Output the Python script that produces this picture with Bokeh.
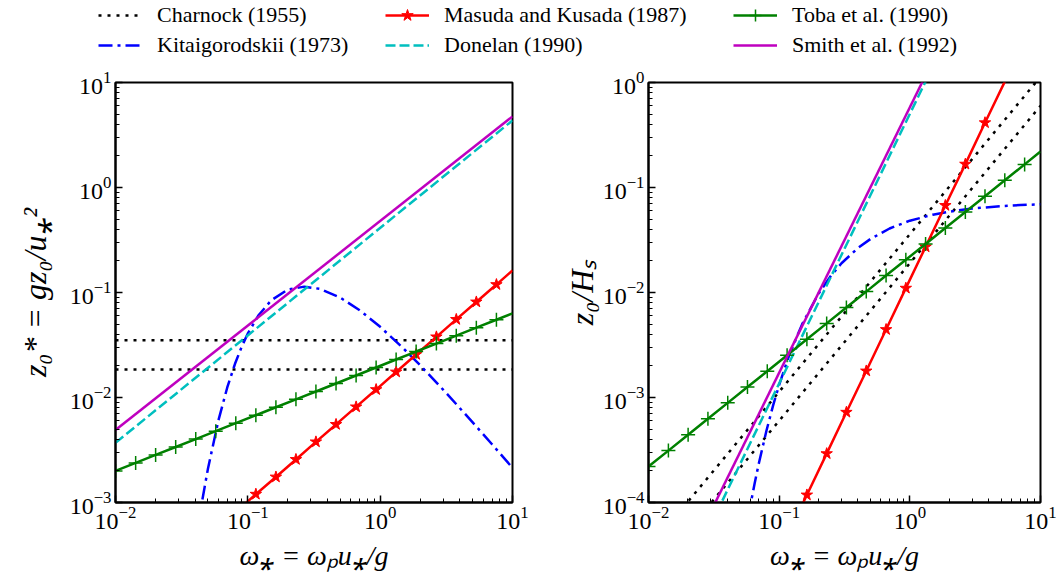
from bokeh.plotting import figure
from bokeh.layouts import column, row
from bokeh.models import Range1d, Legend, LegendItem
from bokeh.embed import file_html
from bokeh.resources import INLINE

# ---------------- data ----------------
# marker abscissae (omega_*)
X_MARK = [0.0100, 0.0142, 0.0201, 0.0285, 0.0404, 0.0572, 0.0811, 0.115, 0.163, 0.231,
          0.327, 0.464, 0.658, 0.932, 1.32, 1.87, 2.66, 3.76, 5.33, 7.56]

# Charnock (1955): two constants
CHARNOCK_X = [0.01, 10.0]
CHARNOCK_L_HI = [0.035, 0.035]
CHARNOCK_L_LO = [0.0185, 0.0185]
CHARNOCK_R_HI = [3.59e-5, 1.135]
CHARNOCK_R_LO = [1.9e-5, 0.60]

# Kitaigorodskii (1973)
KITAI_L_X = [0.042, 0.045, 0.05, 0.06, 0.07, 0.08, 0.09, 0.1, 0.12, 0.15, 0.2, 0.267,
             0.35, 0.5, 0.7, 1.0, 1.5, 2.0, 3.0, 5.0, 7.0, 10.0]
KITAI_L_Y = [5.96e-4, 1.01e-3, 2.11e-3, 6.09e-3, 0.01253, 0.02093, 0.0306, 0.0407, 0.0603,
             0.0841, 0.1064, 0.1137, 0.1083, 0.0893, 0.0678, 0.0471, 0.0293, 0.02035,
             0.01184, 0.0058, 0.00359, 0.002136]
KITAI_R_X = [0.058, 0.06, 0.065, 0.07, 0.08, 0.09, 0.1, 0.12, 0.15, 0.2, 0.25, 0.3, 0.4,
             0.5, 0.7, 1.0, 1.5, 2.0, 3.0, 5.0, 7.0, 10.0]
KITAI_R_Y = [7.3e-5, 9.2e-5, 1.53e-4, 2.38e-4, 4.85e-4, 8.45e-4, 1.32e-3, 2.57e-3, 5.0e-3,
             9.74e-3, 0.01453, 0.01898, 0.0265, 0.03235, 0.0407, 0.0483, 0.0551, 0.0589,
             0.063, 0.0665, 0.068, 0.0692]

# Masuda and Kusada (1987)
MASUDA_L_X = [0.0811, 0.115, 0.163, 0.231, 0.327, 0.464, 0.658, 0.932, 1.32, 1.87, 2.66,
              3.76, 5.33, 7.56, 10.0]
MASUDA_L_Y = [8.1e-4, 1.20e-3, 1.75e-3, 2.57e-3, 3.78e-3, 5.54e-3, 8.14e-3, 0.0119, 0.0175,
              0.0257, 0.0378, 0.0554, 0.0813, 0.119, 0.162]
MASUDA_L_MX = [0.115, 0.163, 0.231, 0.327, 0.464, 0.658, 0.932, 1.32, 1.87, 2.66, 3.76, 5.33, 7.56]
MASUDA_L_MY = [1.20e-3, 1.75e-3, 2.57e-3, 3.78e-3, 5.54e-3, 8.14e-3, 0.0119, 0.0175, 0.0257,
               0.0378, 0.0554, 0.0813, 0.119]
MASUDA_R_X = [0.115, 0.163, 0.231, 0.327, 0.464, 0.658, 0.932, 1.32, 1.87, 2.66, 3.76, 5.33]
MASUDA_R_Y = [4.8e-5, 1.18e-4, 2.92e-4, 7.24e-4, 1.79e-3, 4.44e-3, 0.0110, 0.0272, 0.0675,
              0.167, 0.414, 1.02]
MASUDA_R_MX = [0.163, 0.231, 0.327, 0.464, 0.658, 0.932, 1.32, 1.87, 2.66, 3.76]
MASUDA_R_MY = [1.18e-4, 2.92e-4, 7.24e-4, 1.79e-3, 4.44e-3, 0.0110, 0.0272, 0.0675, 0.167, 0.414]

# Donelan (1990)
DONELAN_L_X = [0.01, 10.0]
DONELAN_L_Y = [0.0037, 4.35]
DONELAN_R_X = [0.033, 1.4]
DONELAN_R_Y = [7.9e-5, 1.19]

# Toba et al. (1990)
TOBA_L_Y = [0.0020, 0.00238, 0.00284, 0.00338, 0.00402, 0.00478, 0.00570, 0.00678, 0.00807,
            0.00961, 0.0114, 0.0136, 0.0162, 0.0193, 0.0230, 0.0274, 0.0326, 0.0388, 0.0462, 0.0550]
TOBA_R_Y = [0.00022, 0.000312, 0.000442, 0.000627, 0.000889, 0.00126, 0.00178, 0.00253,
            0.00359, 0.00508, 0.00719, 0.0102, 0.0145, 0.0205, 0.0290, 0.0411, 0.0585,
            0.0827, 0.117, 0.166]
TOBA_END_X = 10.0
TOBA_L_END = 0.0632
TOBA_R_END = 0.22

# Smith et al. (1992)
SMITH_L_X = [0.01, 10.0]
SMITH_L_Y = [0.0049, 4.75]
SMITH_R_X = [0.03, 1.3]
SMITH_R_Y = [8.2e-5, 1.126]

LABELS = ["Charnock (1955)", "Kitaigorodskii (1973)", "Masuda and Kusada (1987)",
          "Donelan (1990)", "Toba et al. (1990)", "Smith et al. (1992)"]
X_RANGE = (1e-2, 1e1)
LEFT_Y_RANGE = (1e-3, 1e1)
RIGHT_Y_RANGE = (1e-4, 1e0)

# legend-only sample renderers sit outside the legend strip's visible range
LEGEND_DUMMY_X = [-5.0, -4.0]
LEGEND_DUMMY_Y = [-5.0, -4.0]

# ---------------- styles ----------------
SERIF = "Liberation Serif"
LW = 2.5
ST = {
    "char": dict(line_color="black", line_dash="3 6", line_width=LW),
    "kit": dict(line_color="#0000ff", line_dash="14 5 3 5", line_width=LW),
    "mas": dict(line_color="#ff0000", line_width=LW),
    "don": dict(line_color="#00bfbf", line_dash="10 4", line_width=LW),
    "tob": dict(line_color="#008000", line_width=LW),
    "smi": dict(line_color="#bf00bf", line_width=LW),
}
STAR = dict(marker="star", size=12, fill_color="#ff0000", line_color="#ff0000", line_width=1)
CROSS = dict(marker="cross", size=14, line_color="#008000", line_width=1.5)

STRIP_H = 60
PANEL_H = 516


def make_panel(width, bl, br, yr, ylabel, ylabel_standoff):
    p = figure(width=width, height=PANEL_H, x_axis_type="log", y_axis_type="log",
               x_range=Range1d(*X_RANGE), y_range=Range1d(*yr),
               toolbar_location=None, output_backend="svg",
               min_border_left=bl, min_border_right=br,
               min_border_top=22, min_border_bottom=74)
    p.grid.visible = False
    p.outline_line_color = "black"
    p.outline_line_width = 2
    for ax in (p.xaxis[0], p.yaxis[0]):
        ax.axis_line_width = 2
        ax.axis_line_color = "black"
        ax.major_tick_in = 7
        ax.major_tick_out = 0
        ax.minor_tick_in = 4
        ax.minor_tick_out = 0
        ax.major_tick_line_width = 1.5
        ax.minor_tick_line_width = 1
        ax.major_tick_line_color = "black"
        ax.minor_tick_line_color = "black"
        ax.major_label_text_font = SERIF
        ax.major_label_text_font_size = "24px"
        ax.major_label_text_color = "black"
        ax.major_label_standoff = 4
        ax.axis_label_text_font = SERIF
        ax.axis_label_text_font_style = "italic"
        ax.axis_label_text_color = "black"
    p.xaxis.axis_label = "ω⁎ = ωₚu⁎/g"
    p.xaxis.axis_label_text_font_size = "28px"
    p.xaxis.axis_label_standoff = 8
    p.yaxis.axis_label = ylabel
    p.yaxis.axis_label_text_font_size = "32px"
    p.yaxis.axis_label_standoff = ylabel_standoff
    return p


left = make_panel(560, 115, 48, LEFT_Y_RANGE, "z₀* = gz₀/u⁎²", 14)
left.line(CHARNOCK_X, CHARNOCK_L_HI, **ST["char"])
left.line(CHARNOCK_X, CHARNOCK_L_LO, **ST["char"])
left.line(KITAI_L_X, KITAI_L_Y, **ST["kit"])
left.line(MASUDA_L_X, MASUDA_L_Y, **ST["mas"])
left.scatter(MASUDA_L_MX, MASUDA_L_MY, **STAR)
left.line(DONELAN_L_X, DONELAN_L_Y, **ST["don"])
left.line(X_MARK + [TOBA_END_X], TOBA_L_Y + [TOBA_L_END], **ST["tob"])
left.scatter(X_MARK, TOBA_L_Y, **CROSS)
left.line(SMITH_L_X, SMITH_L_Y, **ST["smi"])

right = make_panel(497, 83, 17, RIGHT_Y_RANGE, "z₀/Hₛ", 0)
right.line(CHARNOCK_X, CHARNOCK_R_HI, **ST["char"])
right.line(CHARNOCK_X, CHARNOCK_R_LO, **ST["char"])
right.line(KITAI_R_X, KITAI_R_Y, **ST["kit"])
right.line(MASUDA_R_X, MASUDA_R_Y, **ST["mas"])
right.scatter(MASUDA_R_MX, MASUDA_R_MY, **STAR)
right.line(DONELAN_R_X, DONELAN_R_Y, **ST["don"])
right.line(X_MARK + [TOBA_END_X], TOBA_R_Y + [TOBA_R_END], **ST["tob"])
right.scatter(X_MARK, TOBA_R_Y, **CROSS)
right.line(SMITH_R_X, SMITH_R_Y, **ST["smi"])

# ---------------- legend strip ----------------
lg = figure(width=1057, height=STRIP_H, toolbar_location=None, output_backend="svg",
            x_range=Range1d(0, 1), y_range=Range1d(0, 1),
            x_axis_location=None, y_axis_location=None, min_border=0)
lg.grid.visible = False
lg.outline_line_color = None
r_char = lg.line(LEGEND_DUMMY_X, LEGEND_DUMMY_Y, **ST["char"])
r_kit = lg.line(LEGEND_DUMMY_X, LEGEND_DUMMY_Y, **ST["kit"])
r_mas = lg.line(LEGEND_DUMMY_X, LEGEND_DUMMY_Y, **ST["mas"])
r_mas_m = lg.scatter(LEGEND_DUMMY_X, LEGEND_DUMMY_Y, **STAR)
r_don = lg.line(LEGEND_DUMMY_X, LEGEND_DUMMY_Y, **ST["don"])
r_tob = lg.line(LEGEND_DUMMY_X, LEGEND_DUMMY_Y, **ST["tob"])
r_tob_m = lg.scatter(LEGEND_DUMMY_X, LEGEND_DUMMY_Y, **CROSS)
r_smi = lg.line(LEGEND_DUMMY_X, LEGEND_DUMMY_Y, **ST["smi"])

groups = [
    ([LegendItem(label=LABELS[0], renderers=[r_char]),
      LegendItem(label=LABELS[1], renderers=[r_kit])], 98),
    ([LegendItem(label=LABELS[2], renderers=[r_mas, r_mas_m]),
      LegendItem(label=LABELS[3], renderers=[r_don])], 385),
    ([LegendItem(label=LABELS[4], renderers=[r_tob, r_tob_m]),
      LegendItem(label=LABELS[5], renderers=[r_smi])], 733),
]
for items, x0 in groups:
    leg = Legend(items=items, location=(x0, 0), orientation="vertical",
                 glyph_width=44, glyph_height=30, label_height=30, label_standoff=15,
                 spacing=0, padding=0, margin=0, border_line_alpha=0,
                 background_fill_alpha=0, label_text_font=SERIF,
                 label_text_font_size="22px", label_text_color="black")
    lg.add_layout(leg, "center")

layout = column(lg, row(left, right))
open("out.html", "w").write(file_html(layout, INLINE))
